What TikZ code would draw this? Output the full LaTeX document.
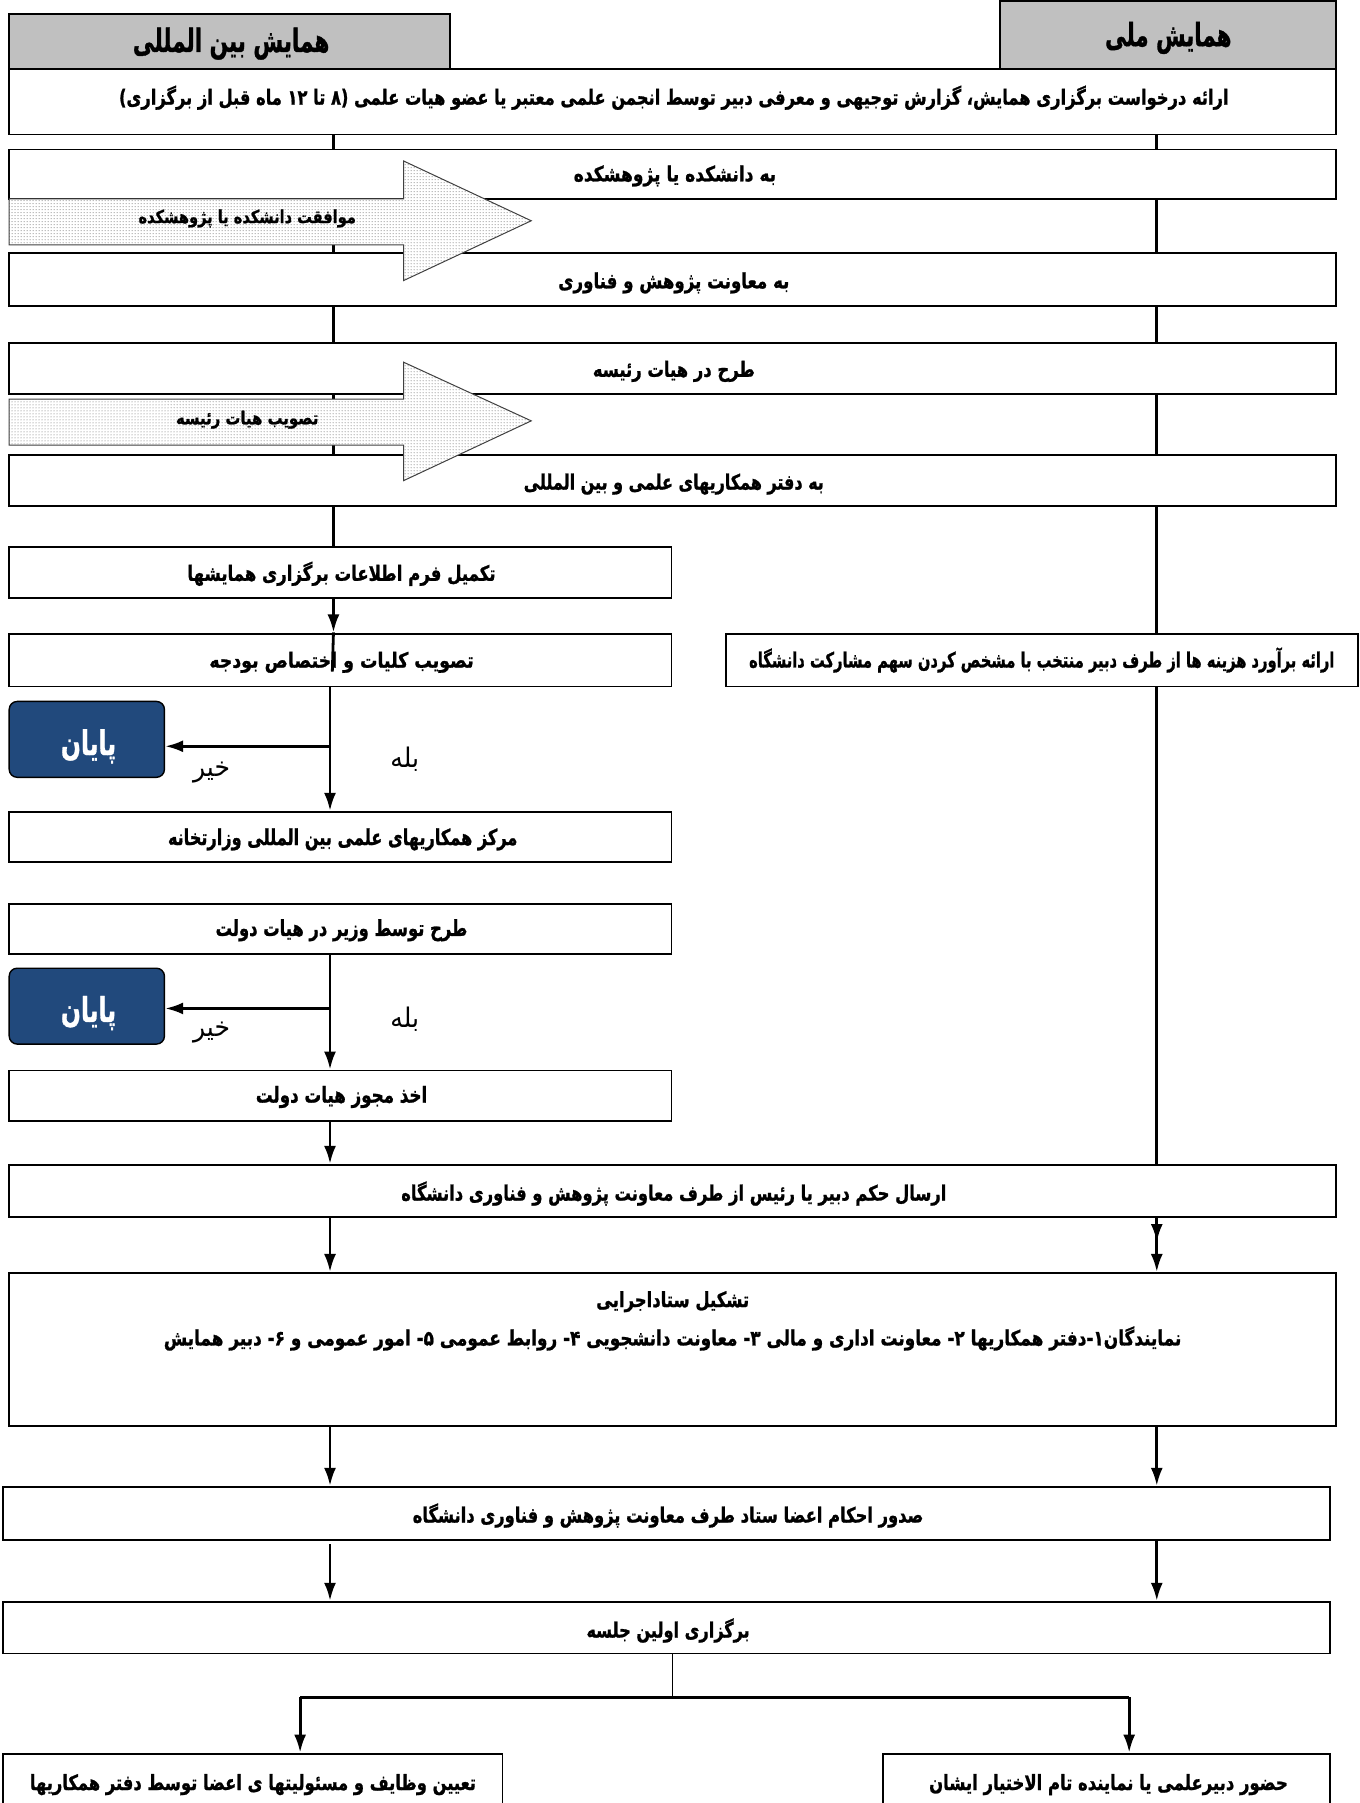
\documentclass[tikz,border=0pt]{standalone}
\usepackage{fontspec}
\usepackage{graphicx}
\usetikzlibrary{arrows.meta,fit,patterns,decorations.markings}
\TeXXeTstate=1
\newfontfamily\farsi[Script=Arabic, BoldFeatures={FakeBold=1.2}]{DejaVu Sans}
\definecolor{hdrgray}{RGB}{192,192,192}
\definecolor{endblue}{RGB}{33,73,124}
\newsavebox\ptbox
% #1 weight, #2 font size (pt), #3 target width (display px), #4 text
\newcommand\ptext[4][\bfseries]{%
  \sbox\ptbox{\fontsize{#2}{#2}\selectfont\farsi#1#4}%
  \pgfmathsetmacro\ptratio{#3*1.1497/\the\wd\ptbox}%
  \scalebox{\ptratio}[1]{\usebox\ptbox}}
\begin{document}
\begin{tikzpicture}[x=1.1497pt,y=-1.1497pt,
  box/.style={draw, line width=1.9pt, inner sep=0pt},
  hdr/.style={box, fill=hdrgray},
  endbox/.style={draw, line width=1.4pt, rounded corners=8pt, fill=endblue, inner sep=0pt},
  lane/.style={line width=2.8pt},
  thinlane/.style={line width=1.3pt},
  arr/.style={line width=2.8pt, -{Latex[length=18pt,width=12pt]}},
  blockarrow/.style={draw=black!75, line width=1pt, preaction={fill=white}, pattern=dots, pattern color=black!60},
  lbl/.style={inner sep=0pt}]
\useasboundingbox (0,0) rectangle (1182,1568);
\clip (0,0) rectangle (1182,1568);

% lane positions
\coordinate (L) at (290,0);
\coordinate (L2) at (287,0);
\coordinate (R) at (1006,0);

% headers
\node[hdr, fit={(8,12) (391,60)}] (h1) {};
\node[lbl] (h1t) at (201,38) {\ptext{32}{171}{\beginR همایش بین المللی\endR}};
\node[hdr, fit={(870,1) (1162,60)}] (h2) {};
\node[lbl] (h2t) at (1016,33) {\ptext{32}{110}{\beginR همایش ملی\endR}};

% full-width boxes
\node[box, fit={(8,60) (1162,117)}] (b1) {};
\node[lbl] (b1t) at (586,85) {\ptext{21}{965}{\beginR ارائه درخواست برگزاری همایش، گزارش توجیهی و معرفی دبیر توسط انجمن علمی معتبر یا عضو هیات علمی (۸ تا ۱۲ ماه قبل از برگزاری)\endR}};
\node[box, fit={(8,130) (1162,173)}] (b2) {};
\node[lbl] (b2t) at (587,153) {\ptext{21}{176}{\beginR به دانشکده یا پژوهشکده\endR}};
\node[box, fit={(8,220) (1162,266)}] (b3) {};
\node[lbl] (b3t) at (586,246) {\ptext{21}{201}{\beginR به معاونت پژوهش  و فناوری\endR}};
\node[box, fit={(8,298) (1162,343)}] (b4) {};
\node[lbl] (b4t) at (586,323) {\ptext{21}{141}{\beginR طرح در هیات رئیسه\endR}};
\node[box, fit={(8,396) (1162,440)}] (b5) {};
\node[lbl] (b5t) at (586,421) {\ptext{21}{261}{\beginR به دفتر همکاریهای علمی و بین المللی\endR}};

% left column boxes
\node[box, fit={(8,476) (584,520)}] (b6) {};
\node[lbl] (b6t) at (297,499) {\ptext{21}{268}{\beginR تکمیل فرم اطلاعات برگزاری همایشها\endR}};
\node[box, fit={(8,551) (584,597)}] (b7) {};
\node[lbl] (b7t) at (297,576) {\ptext{21}{230}{\beginR تصویب  کلیات و اختصاص بودجه\endR}};
\node[box, fit={(631,551) (1181,597)}] (r1) {};
\node[lbl] (r1t) at (906,574) {\ptext{21}{509}{\beginR ارائه برآورد هزینه ها از طرف دبیر منتخب با مشخص کردن سهم مشارکت دانشگاه\endR}};
\node[endbox, fit={(8,610) (143,676)}] (e1) {};
\node[lbl, text=white] (e1t) at (77,649) {\ptext{34}{48}{پایان}};
\node[box, fit={(8,706) (584,750)}] (b8) {};
\node[lbl] (b8t) at (298,730) {\ptext{22}{304}{\beginR مرکز همکاریهای علمی بین المللی وزارتخانه\endR}};
\node[box, fit={(8,786) (584,830)}] (b9) {};
\node[lbl] (b9t) at (297,809) {\ptext{22}{219}{\beginR طرح توسط وزیر در هیات دولت\endR}};
\node[endbox, fit={(8,842) (143,908)}] (e2) {};
\node[lbl, text=white] (e2t) at (77,881) {\ptext{34}{48}{پایان}};
\node[box, fit={(8,931) (584,975)}] (b10) {};
\node[lbl] (b10t) at (297,954) {\ptext{22}{149}{\beginR اخذ مجوز هیات دولت\endR}};

% lower full-width boxes
\node[box, fit={(8,1013) (1162,1058)}] (b11) {};
\node[lbl] (b11t) at (586,1038) {\ptext{21}{474}{\beginR ارسال حکم دبیر یا رئیس از طرف معاونت پژوهش و فناوری دانشگاه\endR}};
\node[box, fit={(8,1107) (1162,1240)}] (b12) {};
\node[lbl] (b12a) at (585,1132) {\ptext{21}{133}{\beginR تشکیل ستاداجرایی\endR}};
\node[lbl] (b12b) at (585,1164) {\ptext{21}{885}{\beginR نمایندگان۱-دفتر همکاریها ۲- معاونت اداری و مالی ۳- معاونت دانشجویی ۴- روابط عمومی ۵- امور عمومی و ۶- دبیر همایش\endR}};
\node[box, fit={(3,1293) (1157,1339)}] (b13) {};
\node[lbl] (b13t) at (581,1318) {\ptext{21}{444}{\beginR صدور احکام اعضا ستاد طرف معاونت پژوهش و فناوری دانشگاه\endR}};
\node[box, fit={(3,1393) (1157,1438)}] (b14) {};
\node[lbl] (b14t) at (581,1418) {\ptext{21}{142}{\beginR برگزاری اولین جلسه\endR}};
\node[box, fit={(3,1525) (437,1580)}] (b15) {};
\node[lbl] (b15t) at (220,1552) {\ptext{21}{388}{\beginR تعیین وظایف  و مسئولیتها ی اعضا توسط دفتر همکاریها\endR}};
\node[box, fit={(768,1525) (1157,1580)}] (b16) {};
\node[lbl] (b16t) at (964,1552) {\ptext{21}{312}{\beginR حضور دبیرعلمی یا نماینده تام الاختیار ایشان\endR}};

% lane connectors (upper part)
\foreach \a/\b in {b1/b2,b2/b3,b3/b4,b4/b5}{
  \draw[lane] (\a.south -| L) -- (\b.north -| L);
  \draw[lane] (\a.south -| R) -- (\b.north -| R);
}
\draw[lane] (b5.south -| L) -- (b6.north -| L);
\draw[lane] (b5.south -| R) -- (r1.north -| R);
\draw[lane] (r1.south -| R) -- (b11.north -| R);

% b6 -> b7 (arrow whose line runs on into the box)
\coordinate (k1) at (290,550);
\coordinate (k2) at (289,584);
\draw[arr] (b6.south -| L) -- (k1);
\draw[lane] (k1) -- (k2);

% decision 1
\draw[arr] (b7.south -| L2) -- (b8.north -| L2);
\coordinate (j1) at (287,649);
\draw[arr] (j1) -- (j1 -| e1.east);
\node[lbl] (no1) at (184,672) {\ptext[\mdseries]{27}{32}{خیر}};
\node[lbl] (yes1) at (352,660) {\ptext[\mdseries]{27}{25}{بله}};

% decision 2
\draw[arr] (b9.south -| L2) -- (b10.north -| L2);
\coordinate (j2) at (287,877);
\draw[arr] (j2) -- (j2 -| e2.east);
\node[lbl] (no2) at (184,898) {\ptext[\mdseries]{27}{32}{خیر}};
\node[lbl] (yes2) at (352,886) {\ptext[\mdseries]{27}{25}{بله}};

\draw[arr] (b10.south -| L2) -- (b11.north -| L2);

% lower connectors
\draw[arr] (b11.south -| L2) -- (b12.north -| L2);
\draw[arr, postaction={decorate, decoration={markings, mark=at position 0.45 with {\arrow{Latex[length=18pt,width=12pt]}}}}] (b11.south -| R) -- (b12.north -| R);
\draw[arr] (b12.south -| L2) -- (b13.north -| L2);
\draw[arr] (b12.south -| R) -- (b13.north -| R);
\coordinate (k3) at (287,1343);
\draw[arr] (k3) -- (b14.north -| L2);
\draw[arr] (b13.south -| R) -- (b14.north -| R);

% split
\coordinate (sp) at (585,1476);
\coordinate (sl) at (261,1476);
\coordinate (sr) at (982,1476);
\draw[thinlane] (b14.south -| sp) -- (sp);
\draw[lane] (sl) -- (sr);
\draw[arr] (sl) -- (b15.north -| sl);
\draw[arr] (sr) -- (b16.north -| sr);

% block arrows
\draw[blockarrow] (8,173) -- (351,173) -- (351,140) -- (462,192) -- (351,244) -- (351,213) -- (8,213) -- cycle;
\node[lbl] (t1) at (215,190) {\ptext{18}{189}{\beginR موافقت دانشکده یا پژوهشکده\endR}};
\draw[blockarrow] (8,347) -- (351,347) -- (351,315) -- (462,366) -- (351,418) -- (351,387) -- (8,387) -- cycle;
\node[lbl] (t2) at (215,365) {\ptext{18}{124}{\beginR تصویب هیات رئیسه\endR}};
\end{tikzpicture}
\end{document}
